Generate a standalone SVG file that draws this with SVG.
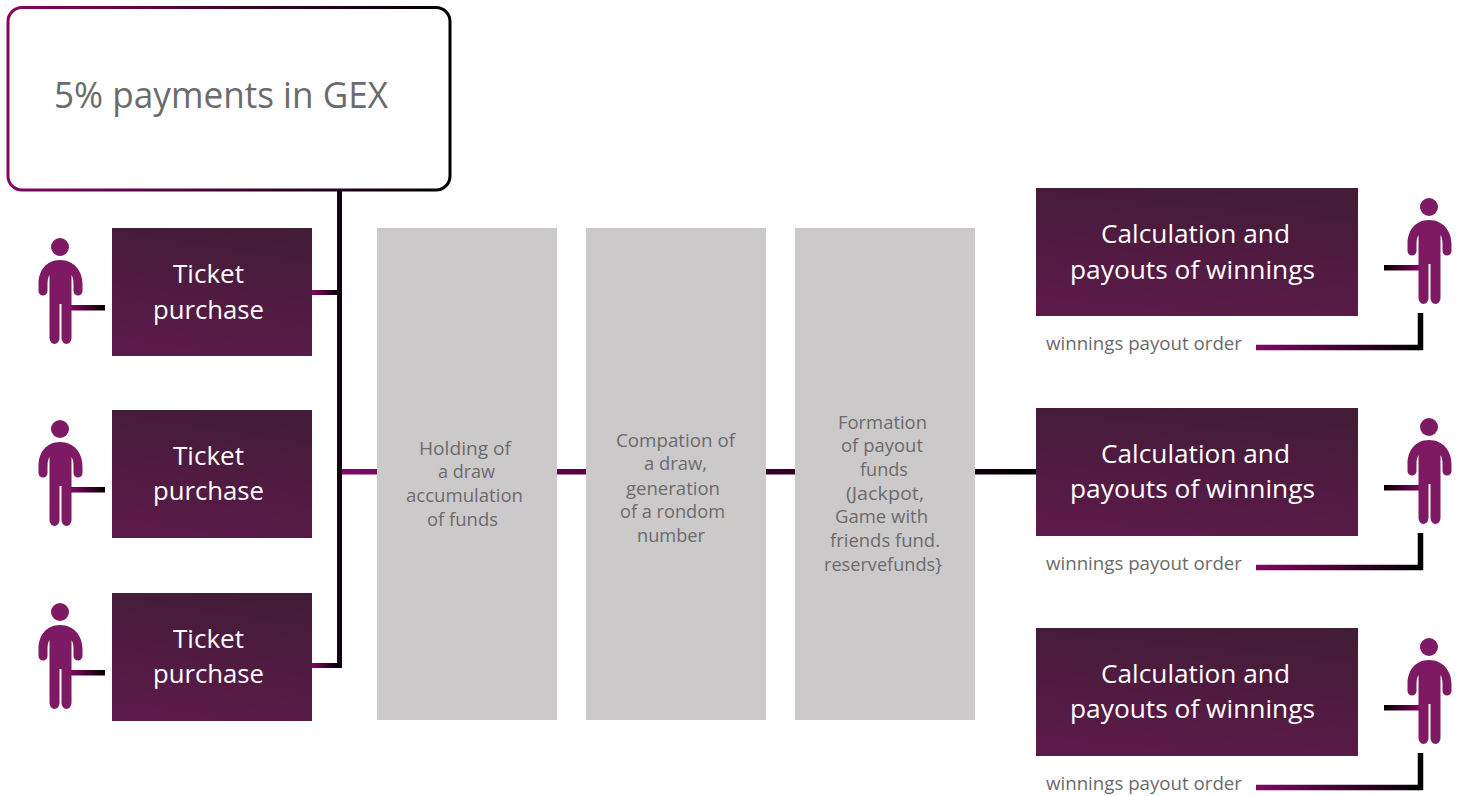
<svg xmlns="http://www.w3.org/2000/svg" xmlns:xlink="http://www.w3.org/1999/xlink" width="1461" height="796" viewBox="0 0 1461 796">
<style>
text{font-family:"Open Sans","Noto Sans","Liberation Sans",sans-serif}
.d{fill:url(#boxGrad)}
.g{fill:#cbc9ca}
.w{fill:#fff;font-size:26px}
.t{fill:#6b6b6b;font-size:18px}
.o{fill:#6b6b6b;font-size:18px}
.p{fill:#7d1a63}
.lr{fill:url(#lineLR)}
.rl{fill:url(#lineRL)}
.l{fill:none;stroke:url(#lineLR);stroke-width:5.500}
</style>
<defs>
<linearGradient id="boxGrad" x1="0.62" y1="0" x2="0.38" y2="1"><stop offset="0" stop-color="#431c37"/><stop offset="1" stop-color="#5c1a4a"/></linearGradient>
<linearGradient id="lineLR" x1="0" y1="0" x2="1" y2="0"><stop offset="0" stop-color="#840763"/><stop offset="1" stop-color="#000"/></linearGradient>
<linearGradient id="lineRL" x1="1" y1="0" x2="0" y2="0"><stop offset="0" stop-color="#840763"/><stop offset="1" stop-color="#000"/></linearGradient>
<g id="person">
<circle cx="60" cy="247" r="9" class="p"/>
<path class="p" d="M60 260C74 260 82.500 271 82.500 284V291A4.500 4.500 0 0 1 73.500 291V284Q73.500 278 71.500 275V338A5 6 0 0 1 61.500 338V304H59.500V338A5 6 0 0 1 49.500 338V275Q47.500 278 47.500 284V291A4.500 4.500 0 0 1 38.500 291V284C38.500 271 46 260 60 260Z"/>
</g>
</defs>

<g id="connectors">
<rect class="lr" x="341" y="469" width="696" height="5.500"/>
<rect fill="#14000f" x="337" y="190" width="5" height="478"/>
<rect class="lr" x="312" y="290" width="27" height="5"/>
<rect class="lr" x="312" y="663" width="27" height="5"/>
<rect class="lr" x="71" y="305" width="34" height="5.500"/>
<rect class="lr" x="71" y="487" width="34" height="5.500"/>
<rect class="lr" x="71" y="670" width="34" height="5.500"/>
<rect class="rl" x="1384" y="265" width="36" height="5.500"/>
<rect class="rl" x="1384" y="485" width="36" height="5.500"/>
<rect class="rl" x="1384" y="705" width="36" height="5.500"/>
<path class="l" d="M1256 347.500H1420.500V313"/>
<path class="l" d="M1256 567.500H1420.500V533"/>
<path class="l" d="M1256 787.500H1420.500V753"/>
</g>

<g id="node-gex">
<rect x="8" y="7.500" width="442" height="182.500" rx="14" fill="#fff" stroke="url(#lineLR)" stroke-width="3"/>
<text x="54" y="108" font-size="36" fill="#6b6b6b" textLength="334" lengthAdjust="spacingAndGlyphs">5% payments in GEX</text>
</g>

<g id="node-person-1"><use href="#person"/></g>
<g id="node-person-2"><use href="#person" y="182"/></g>
<g id="node-person-3"><use href="#person" y="365"/></g>

<g id="node-ticket-1">
<rect class="d" x="112" y="228" width="200" height="128"/>
<text class="w" x="173" y="283" textLength="71" lengthAdjust="spacingAndGlyphs">Ticket</text>
<text class="w" x="153" y="319" textLength="111" lengthAdjust="spacingAndGlyphs">purchase</text>
</g>
<g id="node-ticket-2">
<rect class="d" x="112" y="410" width="200" height="128"/>
<text class="w" x="173" y="465" textLength="71" lengthAdjust="spacingAndGlyphs">Ticket</text>
<text class="w" x="153" y="500" textLength="111" lengthAdjust="spacingAndGlyphs">purchase</text>
</g>
<g id="node-ticket-3">
<rect class="d" x="112" y="593" width="200" height="128"/>
<text class="w" x="173" y="648" textLength="71" lengthAdjust="spacingAndGlyphs">Ticket</text>
<text class="w" x="153" y="683" textLength="111" lengthAdjust="spacingAndGlyphs">purchase</text>
</g>

<g id="node-draw">
<rect class="g" x="377" y="228" width="180" height="492"/>
<text class="t" x="419" y="455" textLength="92" lengthAdjust="spacingAndGlyphs">Holding of</text>
<text class="t" x="438" y="478" textLength="57" lengthAdjust="spacingAndGlyphs">a draw</text>
<text class="t" x="406" y="502" textLength="117" lengthAdjust="spacingAndGlyphs">accumulation</text>
<text class="t" x="427" y="526" textLength="71" lengthAdjust="spacingAndGlyphs">of funds</text>
</g>
<g id="node-compation">
<rect class="g" x="586" y="228" width="180" height="492"/>
<text class="t" x="616" y="447" textLength="119" lengthAdjust="spacingAndGlyphs">Compation of</text>
<text class="t" x="644" y="470" textLength="63" lengthAdjust="spacingAndGlyphs">a draw,</text>
<text class="t" x="626" y="495" textLength="94" lengthAdjust="spacingAndGlyphs">generation</text>
<text class="t" x="620" y="518" textLength="105" lengthAdjust="spacingAndGlyphs">of a rondom</text>
<text class="t" x="637" y="542" textLength="68" lengthAdjust="spacingAndGlyphs">number</text>
</g>
<g id="node-formation">
<rect class="g" x="795" y="228" width="180" height="492"/>
<text class="t" x="838" y="429" textLength="89" lengthAdjust="spacingAndGlyphs">Formation</text>
<text class="t" x="841" y="452" textLength="82" lengthAdjust="spacingAndGlyphs">of payout</text>
<text class="t" x="860" y="476" textLength="48" lengthAdjust="spacingAndGlyphs">funds</text>
<text class="t" x="846" y="500" textLength="78" lengthAdjust="spacingAndGlyphs">(Jackpot,</text>
<text class="t" x="835" y="523" textLength="93" lengthAdjust="spacingAndGlyphs">Game with</text>
<text class="t" x="830" y="547" textLength="110" lengthAdjust="spacingAndGlyphs">friends fund.</text>
<text class="t" x="824" y="571" textLength="118" lengthAdjust="spacingAndGlyphs">reservefunds}</text>
</g>

<g id="node-payout-1">
<rect class="d" x="1036" y="188" width="322" height="128"/>
<text class="w" x="1101" y="243" textLength="189" lengthAdjust="spacingAndGlyphs">Calculation and</text>
<text class="w" x="1070" y="279" textLength="245" lengthAdjust="spacingAndGlyphs">payouts of winnings</text>
<text class="o" x="1046" y="350" textLength="196" lengthAdjust="spacingAndGlyphs">winnings payout order</text>
</g>
<g id="node-payout-2">
<rect class="d" x="1036" y="408" width="322" height="128"/>
<text class="w" x="1101" y="463" textLength="189" lengthAdjust="spacingAndGlyphs">Calculation and</text>
<text class="w" x="1070" y="498" textLength="245" lengthAdjust="spacingAndGlyphs">payouts of winnings</text>
<text class="o" x="1046" y="570" textLength="196" lengthAdjust="spacingAndGlyphs">winnings payout order</text>
</g>
<g id="node-payout-3">
<rect class="d" x="1036" y="628" width="322" height="128"/>
<text class="w" x="1101" y="683" textLength="189" lengthAdjust="spacingAndGlyphs">Calculation and</text>
<text class="w" x="1070" y="718" textLength="245" lengthAdjust="spacingAndGlyphs">payouts of winnings</text>
<text class="o" x="1046" y="790" textLength="196" lengthAdjust="spacingAndGlyphs">winnings payout order</text>
</g>

<g id="node-person-4"><use href="#person" x="1369" y="-40"/></g>
<g id="node-person-5"><use href="#person" x="1369" y="180"/></g>
<g id="node-person-6"><use href="#person" x="1369" y="400"/></g>
</svg>
